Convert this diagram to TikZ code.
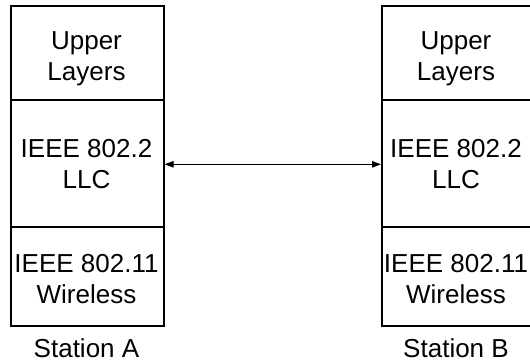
\documentclass[tikz,border=0pt]{standalone}
\usepackage{fontspec}
\setmainfont{Liberation Sans}
\usetikzlibrary{arrows.meta}
\begin{document}
\begin{tikzpicture}[x=1pt,y=-1pt,
  cell/.style={draw,line width=1.6pt,minimum width=153pt,inner sep=0pt,anchor=north west},
  lbl/.style={font=\fontsize{26}{31}\selectfont,anchor=base,inner sep=0pt},
  link/.style={line width=1.2pt,{Triangle[length=9pt,width=6.5pt]}-{Triangle[length=9pt,width=6.5pt]}}]
\useasboundingbox (0,0) rectangle (530,362);
% Station A
\node[cell,minimum height=94pt]  (a1) at (10,5)   {};
\node[cell,minimum height=127pt] (a2) at (10,99)  {};
\node[cell,minimum height=99pt]  (a3) at (10,226) {};
% Station B
\node[cell,minimum height=94pt]  (b1) at (381,5)   {};
\node[cell,minimum height=127pt] (b2) at (381,99)  {};
\node[cell,minimum height=99pt]  (b3) at (381,226) {};
% texts A
\node[lbl] (ta1) at (86.5,49)  {Upper};
\node[lbl] (ta2) at (86.5,80)  {Layers};
\node[lbl] (ta3) at (86.5,157) {IEEE 802.2};
\node[lbl] (ta4) at (86.5,188) {LLC};
\node[lbl] (ta5) at (86.5,272) {IEEE 802.11};
\node[lbl] (ta6) at (86.5,303) {Wireless};
\node[lbl] (sa)  at (86.5,357) {Station A};
% texts B
\node[lbl] (tb1) at (456,49)  {Upper};
\node[lbl] (tb2) at (456,80)  {Layers};
\node[lbl] (tb3) at (456,157) {IEEE 802.2};
\node[lbl] (tb4) at (456,188) {LLC};
\node[lbl] (tb5) at (456,272) {IEEE 802.11};
\node[lbl] (tb6) at (456,303) {Wireless};
\node[lbl] (sb)  at (456,357) {Station B};
% link
\draw[link] ([yshift=-1pt]a2.east) -- ([yshift=-1pt]b2.west);
\end{tikzpicture}
\end{document}
